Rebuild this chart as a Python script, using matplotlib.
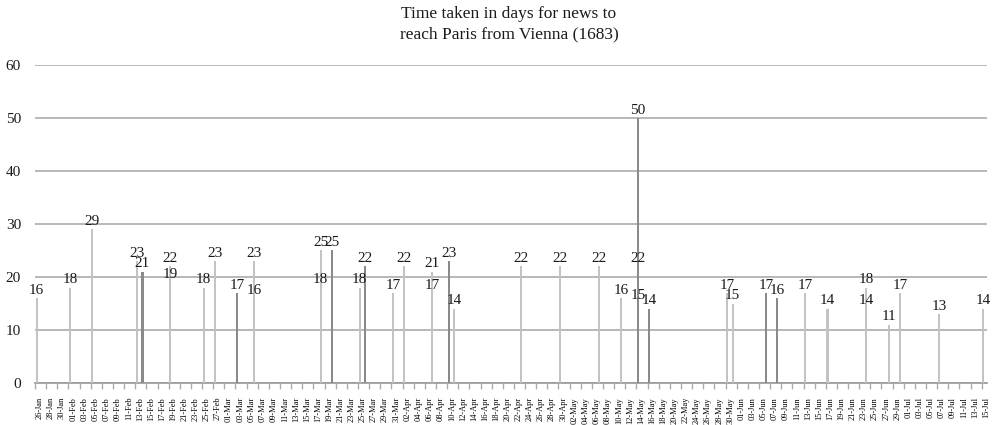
import datetime as dt
import matplotlib
matplotlib.use("Agg")
import matplotlib.pyplot as plt

# data: arrival date in 1683, days taken, shade of the bar
start = dt.date(1683, 1, 26)
end = dt.date(1683, 7, 15)

dates = ["26-Jan", "01-Feb", "05-Feb", "13-Feb", "14-Feb", "19-Feb", "19-Feb",
         "25-Feb", "27-Feb", "03-Mar", "06-Mar", "06-Mar", "18-Mar", "18-Mar",
         "20-Mar", "25-Mar", "26-Mar", "31-Mar", "02-Apr", "07-Apr", "07-Apr",
         "10-Apr", "11-Apr", "23-Apr", "30-Apr", "07-May", "11-May", "14-May",
         "14-May", "14-May", "16-May", "30-May", "31-May", "06-Jun", "08-Jun",
         "13-Jun", "17-Jun", "24-Jun", "24-Jun", "28-Jun", "30-Jun", "07-Jul",
         "15-Jul"]
days = [16, 18, 29, 23, 21, 22, 19,
        18, 23, 17, 23, 16, 25, 18,
        25, 18, 22, 17, 22, 21, 17,
        23, 14, 22, 22, 22, 16, 50,
        22, 15, 14, 17, 15, 17, 16,
        17, 14, 18, 14, 11, 17, 13,
        14]
dark = {"14-Feb", "03-Mar", "20-Mar", "26-Mar", "10-Apr", "14-May", "16-May",
        "06-Jun", "08-Jun"}

LIGHT = "#c3c3c3"
DARK = "#8a8a8a"
GRID = "#ababab"


def day_index(label):
    d = dt.datetime.strptime(label + "-1683", "%d-%b-%Y").date()
    return (d - start).days


xs = [day_index(d) for d in dates]
colors = [DARK if d in dark else LIGHT for d in dates]
n_days = (end - start).days

plt.rcParams["font.family"] = ["Liberation Serif", "DejaVu Serif"]

fig = plt.figure(figsize=(9.94, 4.25), dpi=100)
ax = fig.add_axes([35 / 994, 1 - 383 / 425, 952 / 994, 318 / 425])

# draw tallest first so shorter bars on the same day stay visible
order = sorted(range(len(xs)), key=lambda i: -days[i])
for i in order:
    ax.bar(xs[i], days[i], width=0.38, color=colors[i], zorder=3)
for x, v in zip(xs, days):
    ax.annotate(str(v), xy=(x, v), xytext=(0, 1), textcoords="offset points",
                ha="center", va="bottom", fontsize=11, color="#1a1a1a", zorder=4)

ax.set_ylim(0, 60)
ax.set_yticks(range(0, 61, 10))
ax.yaxis.grid(True, color=GRID, linewidth=1.2, zorder=0)
ax.tick_params(axis="y", length=0, labelsize=11, pad=10, labelcolor="#1a1a1a")

ax.set_xlim(-0.3, n_days + 0.65)
tick_days = list(range(0, n_days + 1, 2))
ax.set_xticks([d - 0.3 for d in tick_days])
ax.set_xticklabels([])
ax.set_xticks([d + 0.55 for d in tick_days], minor=True)
ax.set_xticklabels([(start + dt.timedelta(days=d)).strftime("%d-%b") for d in tick_days],
                   minor=True, rotation=90, fontsize=6)
ax.tick_params(axis="x", which="major", length=4, color=GRID, width=1)
ax.tick_params(axis="x", which="minor", length=0, pad=10)

for s in ["top", "right", "left"]:
    ax.spines[s].set_visible(False)
ax.spines["bottom"].set_color("#999999")
ax.spines["bottom"].set_linewidth(1.2)

fig.text(0.512, 0.985, "Time taken in days for news to\nreach Paris from Vienna (1683)",
         ha="center", va="top", fontsize=12.5, linespacing=1.35, color="#1a1a1a")

fig.savefig("out.png", dpi=100)
